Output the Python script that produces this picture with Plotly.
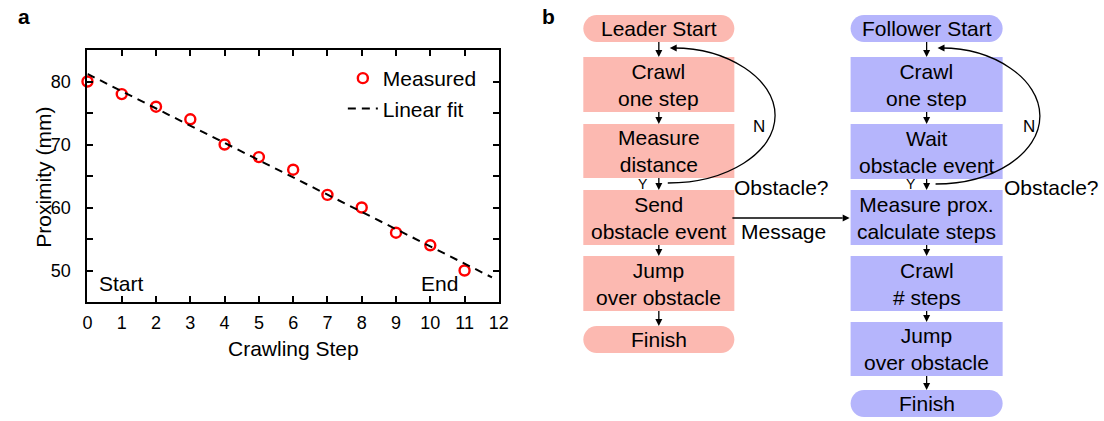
import plotly.graph_objects as go

W, H = 1104, 421          # reference picture size (coordinates below are in these pixels)
PAGE_W = 1112             # page width compensating the capture's horizontal squeeze

# ---------------- data (panel a) ----------------
steps = [0, 1, 2, 3, 4, 5, 6, 7, 8, 9, 10, 11]
proximity = [80, 78, 76, 74, 70, 68, 66, 62, 60, 56, 54, 50]
fit_x = [0, 11.8]
fit_y = [81.2, 48.9]
x_ticks = list(range(0, 13))
y_ticks = [50, 60, 70, 80]
y_minor = [55, 65, 75]

# ---------------- flowchart text (panel b) ----------------
leader_labels = ["Leader Start", "Crawl<br>one step", "Measure<br>distance",
                 "Send<br>obstacle event", "Jump<br>over obstacle", "Finish"]
follower_labels = ["Follower Start", "Crawl<br>one step", "Wait<br>obstacle event",
                   "Measure prox.<br>calculate steps", "Crawl<br># steps",
                   "Jump<br>over obstacle", "Finish"]

FONT = "Liberation Sans, Arial, Helvetica, sans-serif"
FS = 21
TICK_FS = 18
PINK = "#FCB9B1"
BLUE = "#B5B5FC"


def px(x):
    return x / W


def py(y):
    return 1 - y / H


def P(x, y):
    return f"{px(x):.5f},{py(y):.5f}"


K = 0.5523


def pill_path(x0, y0, x1, y1):
    r = (y1 - y0) / 2
    ym = (y0 + y1) / 2
    return (f"M{P(x0 + r, y0)} L{P(x1 - r, y0)} "
            f"C{P(x1 - r + K * r, y0)} {P(x1, ym - K * r)} {P(x1, ym)} "
            f"C{P(x1, ym + K * r)} {P(x1 - r + K * r, y1)} {P(x1 - r, y1)} "
            f"L{P(x0 + r, y1)} "
            f"C{P(x0 + r - K * r, y1)} {P(x0, ym + K * r)} {P(x0, ym)} "
            f"C{P(x0, ym - K * r)} {P(x0 + r - K * r, y0)} {P(x0 + r, y0)} Z")


def loop_path(cx, ytop, ybot, rx):
    cy = (ytop + ybot) / 2
    ry = (ybot - ytop) / 2
    return (f"M{P(cx, ybot)} "
            f"C{P(cx + K * rx, ybot)} {P(cx + rx, cy + K * ry)} {P(cx + rx, cy)} "
            f"C{P(cx + rx, cy - K * ry)} {P(cx + K * rx, ytop + 0.01)} {P(cx + 6, ytop)}")


fig = go.Figure()
fig.add_trace(go.Scatter(
    x=steps, y=proximity, mode="markers", name="Measured",
    legendgroup="m",
    marker=dict(symbol="circle-open", size=10, color="#FF0000",
                line=dict(width=2.4, color="#FF0000")),
    cliponaxis=False,
))
fig.add_trace(go.Scatter(
    x=fit_x, y=fit_y, mode="lines", name="Linear fit",
    legendgroup="f",
    line=dict(color="black", width=2, dash="8px,6px"),
))

shapes = []
annotations = []

AL, AW = 7, 3.5  # arrowhead length / half-width (px)


def head(x1, y1, ux, uy):
    bx, by = x1 - ux * AL, y1 - uy * AL
    nx, ny = -uy, ux
    path = (f"M{P(x1, y1)} L{P(bx + nx * AW, by + ny * AW)} "
            f"L{P(bx - nx * AW, by - ny * AW)} Z")
    shapes.append(dict(type="path", path=path, xref="paper", yref="paper",
                       fillcolor="black", line=dict(width=0)))


def arrow(x0, y0, x1, y1):
    dx, dy = x1 - x0, y1 - y0
    n = (dx * dx + dy * dy) ** 0.5
    ux, uy = dx / n, dy / n
    bx, by = x1 - ux * AL, y1 - uy * AL
    shapes.append(dict(type="line", x0=px(x0), y0=py(y0), x1=px(bx), y1=py(by),
                       xref="paper", yref="paper", line=dict(color="black", width=1.3)))
    head(x1, y1, ux, uy)


# ---- flowchart boxes ----
leader_x = (582, 734)
leader_boxes = [(15, 42, True), (57, 112, False), (124, 178, False),
                (190, 245, False), (256, 311, False), (326, 353, True)]
follower_x = (851, 1004)
follower_boxes = [(15, 42, True), (57, 112, False), (124, 179, False),
                  (190, 245, False), (256, 311, False), (322, 376, False),
                  (390, 417, True)]


def add_column(xr, boxes, labels, color):
    x0, x1 = xr
    cx = (x0 + x1) / 2
    for (y0, y1, pill), lab in zip(boxes, labels):
        if pill:
            shapes.append(dict(type="path", path=pill_path(x0, y0, x1, y1),
                               xref="paper", yref="paper", fillcolor=color,
                               line=dict(width=0), layer="below"))
        else:
            shapes.append(dict(type="rect", x0=px(x0), x1=px(x1), y0=py(y1), y1=py(y0),
                               xref="paper", yref="paper", fillcolor=color,
                               line=dict(width=0), layer="below"))
        annotations.append(dict(x=px(cx), y=py((y0 + y1) / 2), xref="paper", yref="paper",
                                text=lab, showarrow=False, xanchor="center", yanchor="middle",
                                font=dict(family=FONT, size=FS, color="black")))
    for (a0, a1, _), (b0, b1, _) in zip(boxes[:-1], boxes[1:]):
        arrow(cx, a1, cx, b0)
    return cx


lcx = add_column(leader_x, leader_boxes, leader_labels, PINK)
fcx = add_column(follower_x, follower_boxes, follower_labels, BLUE)

# ---- feedback loops ----
for cx, ybot, rx in [(lcx + 9, 183, 108), (fcx + 9, 184, 105)]:
    shapes.append(dict(type="path", path=loop_path(cx, 48, ybot, rx),
                       xref="paper", yref="paper",
                       line=dict(color="black", width=1.3)))
    head(cx + 2, 48, -1, 0)

# ---- message arrow ----
arrow(732, 218, 850, 218)


def txt(x, y, s, xanchor="center", size=FS, bold=False, angle=0):
    annotations.append(dict(x=px(x), y=py(y), xref="paper", yref="paper", text=s,
                            showarrow=False, xanchor=xanchor, yanchor="middle",
                            textangle=angle,
                            font=dict(family=FONT, size=size, color="black",
                                      weight="bold" if bold else "normal")))


txt(759, 126, "N", size=17)
txt(1031, 126, "N", size=17)
txt(642, 184, "Y", size=14)
txt(912, 184, "Y", size=14)
txt(732, 188, "Obstacle?", xanchor="left")
txt(1003, 188, "Obstacle?", xanchor="left")
txt(739, 231, "Message", xanchor="left")

# ---- panel a texts ----
txt(19, 16, "a", bold=True)
txt(547, 16, "b", bold=True)
txt(93, 283, "Start", xanchor="left")
txt(458, 283, "End", xanchor="right")
txt(290, 348, "Crawling Step")
txt(38, 177, "Proximity (mm)", angle=-90)

axis_common = dict(showline=True, linewidth=2, linecolor="black", mirror="ticks",
                   ticks="inside", ticklen=6, tickwidth=1.5, tickcolor="black",
                   showgrid=False, zeroline=False,
                   tickfont=dict(family=FONT, size=TICK_FS, color="black"))

fig.update_layout(
    width=PAGE_W, height=H,
    margin=dict(l=0, r=0, t=0, b=0),
    paper_bgcolor="white", plot_bgcolor="rgba(0,0,0,0)",
    font=dict(family=FONT, size=FS, color="black"),
    xaxis=dict(domain=[px(83), px(497)], range=[0, 12], tickvals=x_ticks,
               ticklabelstandoff=3, **axis_common),
    yaxis=dict(domain=[py(302), py(50)], range=[45, 85], tickvals=y_ticks,
               minor=dict(tickvals=y_minor, ticks="inside", ticklen=6,
                          tickwidth=1.5, tickcolor="black"),
               ticklabelstandoff=11, **axis_common),
    legend=dict(x=px(340), y=py(58), xanchor="left", yanchor="top",
                bgcolor="rgba(0,0,0,0)", traceorder="grouped", tracegroupgap=0,
                font=dict(family=FONT, size=FS, color="black")),
    shapes=shapes,
    annotations=annotations,
    showlegend=True,
)

fig.write_html("out.html",
               config={"displayModeBar": False},
               post_script="document.body.style.margin='0px';"
                           "document.body.style.overflow='hidden';")
